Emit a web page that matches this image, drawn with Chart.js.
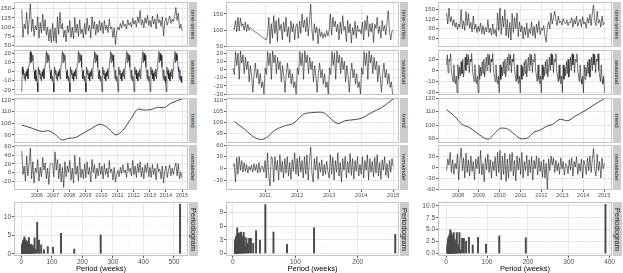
<!DOCTYPE html>
<html>
<head>
<meta charset="utf-8">
<script src="https://cdn.jsdelivr.net/npm/chart.js@4.4.0/dist/chart.umd.min.js"></script>
<style>
  body { margin: 0; background: #fff; width: 623px; height: 273px; overflow: hidden; position: relative; font-family: "Liberation Sans", Arial, sans-serif; }
  canvas { position: absolute; }
  .strip { position: absolute; background: #cccccc; color: #1a1a1a; display: flex; align-items: center; justify-content: center; overflow: hidden; z-index: 2; }
  .strip span { writing-mode: vertical-rl; white-space: nowrap; line-height: 1; }
</style>
</head>
<body>
<script>
// ---- column 1 : weekly, 2005 - 2015 ----
const ts1 = [
  148, 72, 108, 95, 140, 80, 118, 163, 88, 122, 76, 104, 92,
  128, 70, 112, 84, 135, 90, 120, 78, 100, 62, 95, 58, 110,
  62, 98, 56, 128, 80, 140, 95, 110, 72, 92, 60, 104, 85,
  118, 72, 100, 68, 126, 85, 108, 75, 120, 82, 95, 70, 110,
  80, 124, 90, 105, 70, 128, 95, 115, 78, 108, 85, 118, 90,
  112, 82, 118, 92, 105, 85, 122, 95, 100, 72, 98, 52, 88,
  100, 92, 110, 98, 118, 102, 108, 95, 120, 105, 112, 100, 124,
  108, 118, 100, 128, 112, 145, 105, 120, 98, 125, 110, 132, 104,
  118, 100, 130, 108, 122, 95, 135, 112, 120, 102, 128, 76, 115,
  125, 105, 118, 130, 110, 122, 115, 128, 153, 118, 138, 96, 108,
  90
];
const season1 = [-22, 5, -3, 2, -8, -2, -10, 0, -5, 3, -8, 2, 8, 15, 22, 10, 20, 12, 18, 5, 0, -8, 2, -10, -5, -12];
const trendYears1 = [2005.05, 2005.7, 2006.35, 2006.65, 2007.07, 2007.6, 2008.0, 2008.3, 2008.85, 2009.4, 2009.9, 2010.3, 2010.65, 2010.9, 2011.1, 2011.35, 2011.85, 2012.3, 2012.6, 2013.0, 2013.55, 2013.85, 2014.3, 2015.0];
const trendValues1 = [98.6, 95.7, 93.0, 93.6, 91.0, 85.7, 87.2, 87.5, 91.4, 95.7, 99.1, 97.1, 92.5, 90.0, 91.2, 94.3, 104.3, 112.3, 111.4, 111.6, 113.7, 113.4, 117.1, 120.9];
const remainder1 = [
  50, -5, 15, -20, 38, -8, 20, 57, -15, 25, -25, 10, 0,
  30, -20, 12, -10, 35, 5, 22, -15, 10, -28, 18, 22, 20,
  -10, 48, 5, 30, -15, 20, -22, 12, -35, 25, -10, 15, 0,
  28, -18, 10, -25, 40, -5, 15, -20, 35, -12, 8, -15, 20,
  -12, 25, -5, 12, -22, 30, 0, 18, -15, 10, -8, 22, -5,
  15, -15, 20, -5, 10, -12, 28, 0, 8, -18, 12, -22, -5,
  5, -10, 12, -3, 18, 0, 6, -12, 22, 2, 10, -8, 28,
  -5, 15, -12, 20, 0, 25, -10, 12, -15, 18, 0, 22, -10,
  12, -12, 18, -5, 10, -18, 20, 2, 8, -15, 15, -25, 5,
  15, -12, 5, 18, -8, 10, -5, 12, 22, -8, 20, -15, 0,
  -12
];
const pgramN1 = 520;
const pgram1 = [
  13.4, 5.1, 1.3, 5.5, 1.8, 1.95, 1.1, 2.4, 3.7, 8.5,
  1.2, 4.3, 1.5, 2.3, 1.0, 2.5, 1.8, 2.6, 1.4, 2.2,
  4.4, 1.2, 3.0, 2.0, 2.6, 3.2, 1.5, 2.8, 0.8, 3.5,
  1.8, 2.4, 3.3, 1.2, 2.9, 2.0, 3.6, 1.0, 3.2, 2.5,
  3.8, 1.6, 2.7, 3.4, 1.1, 4.0, 2.2, 3.0, 1.7, 3.6,
  2.4, 4.6, 1.3, 3.1, 2.6, 3.9, 1.8, 2.9, 3.3, 1.5,
  3.7, 2.1, 3.4, 2.8, 1.2, 3.5, 2.3, 3.0, 1.9, 3.2,
  2.6, 1.4, 3.3, 2.0, 2.7, 3.6, 1.6, 2.5, 3.1, 2.2,
  1.8, 2.9, 2.4, 3.4, 1.3, 2.6, 3.0, 2.1, 1.7, 2.8,
  2.3, 3.2, 1.5, 2.5, 2.0, 2.9, 1.4, 2.4, 2.7, 1.9,
  2.2, 1.6, 2.8, 2.0, 1.3, 2.5, 1.8, 2.3, 1.1, 2.6,
  2.0, 1.5, 2.4, 1.9, 2.7, 1.2, 2.1, 1.7, 2.5, 1.4,
  2.2, 1.8, 1.0, 2.3, 1.6, 2.0, 1.3, 1.9, 2.4, 1.5
];

// ---- column 2 : weekly, 2010 - 2015 ----
const ts2 = [
  105, 102, 130, 95, 140, 98, 138, 112, 120, 100, 125, 96, 118, 100, 108, 104, 100, 97, 94, 92, 90, 86, 84, 80, 78, 75,
  72, 70, 85, 140, 58, 120, 75, 145, 90, 130, 65, 138, 100, 118, 70, 125, 95, 140, 80, 110, 62, 128, 95, 120, 70, 112,
  120, 75, 128, 90, 150, 108, 132, 95, 140, 82, 125, 180, 100, 68, 120, 92, 110, 58, 105, 80, 95, 75, 90, 78, 98, 82,
  100, 150, 85, 140, 110, 128, 95, 118, 70, 125, 88, 145, 100, 112, 65, 130, 92, 120, 60, 108, 85, 128, 75, 115, 95, 102,
  88, 125, 70, 130, 100, 145, 80, 120, 95, 122, 62, 118, 105, 140, 90, 112, 75, 130, 98, 115, 85, 125, 160, 92, 70, 98,
  100
];
const season2 = [2, -6, 22, 5, 20, -12, 23, 8, 18, -5, 15, 0, 10, -15, 5, -8, -28, -5, 8, -10, 0, -18, -5, -22, -15, -30];
const trendYears2 = [2010.04, 2010.36, 2010.68, 2010.89, 2011.04, 2011.3, 2011.6, 2011.88, 2012.19, 2012.45, 2012.71, 2012.86, 2013.07, 2013.28, 2013.49, 2013.7, 2014.01, 2014.32, 2014.64, 2015.0];
const trendValues2 = [100.3, 96.8, 93.0, 92.2, 93.0, 96.3, 98.3, 99.4, 103.5, 104.3, 104.5, 104.0, 101.3, 99.4, 100.6, 101.0, 101.8, 104.3, 106.6, 110.5];
const remainder2 = [
  5, 12, -35, 28, -15, 30, -5, 20, -10, 15, -8, 10, -12, 5, -5, 8, -10, 12, -6, 10, -12, 15, -10, 5, 5, -10,
  20, -25, 40, -20, -45, 30, 25, -35, 30, -5, 20, -30, 35, -10, 18, -25, 25, -12, 30, -20, 15, -28, 22, -8, 40, -15,
  25, -20, 30, -10, 20, -25, 30, -15, 35, -30, 20, 55, -12, -35, 25, -5, 30, -28, 15, -10, 22, -20, 10, -15, 18, -8,
  -25, 35, -15, 28, -30, 20, -10, 40, -20, 15, -35, 25, -5, 30, -25, 18, -12, 38, -18, 25, -28, 20, -8, 30, -20, 10,
  -15, 30, -25, 20, -5, 35, -30, 25, -10, 18, -22, 28, -12, 35, -20, 15, -28, 22, -5, 30, -18, 12, -25, 20, -10, 25,
  5
];
const pgramN2 = 260;
const pgram2 = [
  4.2, 5.6, 2.0, 4.7, 10.7, 2.9, 5.0, 2.2, 3.3, 3.3,
  2.2, 3.4, 1.5, 3.6, 4.6, 2.8, 2.5, 3.8, 1.5, 4.7,
  2.8, 3.0, 3.9, 3.5, 2.5, 4.5, 1.8, 3.9, 2.6, 4.1,
  3.2, 1.9, 4.4, 2.7, 3.6, 2.1, 5.6, 1.6, 3.3, 2.8,
  3.7, 2.2, 4.0, 1.8, 3.1, 2.6, 3.5, 2.0, 2.9, 3.4,
  1.7, 3.0, 2.4, 3.6, 1.9, 2.7, 3.2, 2.1, 2.5, 3.0,
  1.8, 2.6, 2.2, 2.9, 1.6, 2.4, 2.8, 2.0, 2.3, 1.7
];

// ---- column 3 : weekly, mid 2007 - 2015 ----
const ts3 = [
  140, 105, 155, 112, 128, 100, 118, 95, 110, 88,
  105, 95, 150, 90, 115, 85, 145, 100, 138, 92,
  110, 80, 130, 88, 105, 78, 98, 82, 108, 75,
  100, 72, 95, 80, 118, 78, 92, 70, 105, 74,
  88, 65, 140, 85, 155, 72, 130, 95, 150, 68,
  120, 62, 110, 55, 138, 78, 125, 90, 140, 65,
  112, 80, 100, 58, 95, 70, 108, 62, 90, 75,
  112, 68, 98, 60, 105, 78, 115, 72, 92, 85,
  100, 68, 48, 95, 112, 90, 140, 105, 125, 145,
  118, 100, 130, 108, 115, 102, 122, 110, 105, 118,
  100, 112, 108, 125, 95, 118, 105, 130, 98, 112,
  120, 96, 128, 105, 112, 92, 125, 108, 135, 100,
  140, 165, 115, 100, 145, 108, 118, 95, 130, 102, 110
];
const season3 = [-20, 5, -8, 3, -5, 8, -3, 10, -6, 2, 12, 0, 15, 5, 14, -2, 10, 8, 15, 0, -5, -10, 5, -8, -12, -5];
const trendYears3 = [2007.45, 2007.81, 2008.2, 2008.52, 2008.91, 2009.3, 2009.46, 2009.7, 2010.09, 2010.33, 2010.72, 2011.03, 2011.27, 2011.66, 2011.97, 2012.29, 2012.52, 2012.92, 2013.23, 2013.62, 2014.09, 2014.56, 2015.0];
const trendValues3 = [111.6, 107.0, 100.5, 98.4, 94.1, 90.0, 89.5, 93.0, 97.8, 97.4, 93.0, 89.8, 90.0, 94.8, 96.5, 99.5, 100.5, 104.4, 103.2, 106.8, 110.8, 115.6, 119.7];
const remainder3 = [
  -10, 22, 5, 40, -15, 20, -20, 10, -5, 35,
  -35, 18, 52, -10, 25, -30, 38, -15, 20, -25,
  30, -12, 15, -35, 22, -5, 28, -18, 45, -22,
  10, -40, 25, -8, 35, -15, 20, -30, 15, -10,
  28, -25, 40, -15, 45, -35, 30, -20, 38, -40,
  22, -30, 35, -12, 40, -25, 18, -38, 30, -8,
  25, -20, 40, -30, 15, -10, 32, -25, 20, -15,
  28, -35, 18, -5, 30, -22, 25, -12, 15, -28,
  20, -30, 10, -62, 22, -10, 30, 5, 25, -15,
  18, -10, 12, -20, 25, -5, 15, -22, 10, 5,
  -18, 20, -8, 25, -25, 15, 0, 28, -20, 10,
  -12, 22, -30, 18, 5, -20, 25, -10, 30, -15,
  20, 50, -8, -25, 35, -10, 15, -30, 25, -5, 10
];
const pgramN3 = 390;
const pgram3 = [
  10.3, 3.3, 3.7, 2.0, 3.4, 1.8, 3.4, 2.6, 3.2, 3.2,
  0.8, 4.4, 1.5, 2.0, 4.4, 1.0, 2.7, 1.5, 3.0, 2.0,
  4.4, 1.6, 3.4, 2.5, 3.8, 1.3, 2.9, 3.6, 2.2, 4.1,
  1.9, 3.3, 2.7, 4.6, 1.5, 3.0, 2.4, 3.7, 5.0, 2.1,
  3.5, 1.8, 4.0, 2.6, 3.2, 1.4, 3.9, 2.3, 3.0, 2.8,
  1.7, 3.6, 2.2, 3.1, 2.7, 1.5, 3.4, 2.0, 2.9, 3.3,
  1.6, 2.8, 3.5, 2.1, 2.5, 3.0, 1.8, 2.6, 3.2, 2.2,
  1.9, 2.7, 2.3, 3.0, 1.5, 2.4, 2.8, 2.0, 1.7, 2.5,
  2.2, 1.4, 2.6, 1.9, 2.3, 1.6, 2.1, 2.4, 1.3, 2.0,
  1.8, 2.2, 1.5, 1.9, 2.3, 1.2, 1.7, 2.0, 1.4, 1.8
];

// ---- layout ----
const FONT = '"Liberation Sans", Arial, sans-serif';
const TICK_COLOR = '#4d4d4d';
const PAD = 6;
const RP = 7;
const AXIS_TS = 9;
const AXIS_PG = 17;

const rowNames = ['time-series', 'seasonal', 'trend', 'remainder'];
const rows = [
  {top: 2, h: 45},
  {top: 50, h: 45},
  {top: 98, h: 45},
  {top: 145, h: 45}
];
const cols = [
  {left: 0, panelLeft: 14, panelRight: 188, strip: 189, xMin: 2004.57, xMax: 2015.37, years: [2006, 2007, 2008, 2009, 2010, 2011, 2012, 2013, 2014, 2015]},
  {left: 205, panelLeft: 226, panelRight: 399, strip: 400, xMin: 2009.78, xMax: 2015.18, years: [2011, 2012, 2013, 2014, 2015]},
  {left: 413, panelLeft: 438, panelRight: 612, strip: 613, xMin: 2007.04, xMax: 2015.38, years: [2008, 2009, 2010, 2011, 2012, 2013, 2014, 2015]}
];
const PG_TOP = 202, PG_H = 54;

const toPoints = (vals, start, end) => vals.map((v, i) => ({x: start + i * (end - start) / (vals.length - 1), y: v}));

const tileSeason = (cycle, firstIdx, count, start, end) => {
    const vals = [];
    for (let i = 0; i < count; i++) {
        vals.push(cycle[(firstIdx + i) % cycle.length]);
    }
    return toPoints(vals, start, end);
};

const knots = (years, values) => years.map((x, i) => ({x: x, y: values[i]}));

const panelBorder = {
    id: 'panelBorder',
    afterDatasetsDraw(chart) {
        const {ctx, chartArea: a} = chart;
        ctx.save();
        ctx.strokeStyle = '#c4c4c4';
        ctx.lineWidth = 1;
        ctx.strokeRect(Math.round(a.left) + 0.5, Math.round(a.top) + 0.5, Math.round(a.right - a.left) - 1, Math.round(a.bottom - a.top) - 1);
        ctx.restore();
    }
};

function tickSetter(major) {
    return (scale) => {
        const list = major.map(v => ({value: v}));
        const step = major[1] - major[0];
        for (let v = major[0] - step / 2; v <= scale.max; v += step) {
            if (v >= scale.min) list.push({value: v, minor: true});
        }
        list.sort((a, b) => a.value - b.value);
        scale.ticks = list;
    };
}

const gridOpts = (tickLen) => ({
    color: c => (c.tick && c.tick.minor) ? '#f3f3f3' : '#e6e6e6',
    lineWidth: c => (c.tick && c.tick.minor) ? 0.6 : 1,
    tickColor: c => (c.tick && c.tick.minor) ? 'rgba(0,0,0,0)' : '#333333',
    tickWidth: 0.8,
    tickLength: tickLen,
    drawTicks: tickLen > 0
});

const labeler = fmt => function (value, index, ticks) {
    return ticks[index].minor ? '' : fmt(value);
};

function addCanvas(x, y, w, h) {
    const c = document.createElement('canvas');
    c.width = w;
    c.height = h;
    c.style.left = x + 'px';
    c.style.top = y + 'px';
    c.style.width = w + 'px';
    c.style.height = h + 'px';
    document.body.appendChild(c);
    return c;
}

function addStrip(x, y, w, h, text, size) {
    const d = document.createElement('div');
    d.className = 'strip';
    Object.assign(d.style, {left: x + 'px', top: y + 'px', width: w + 'px', height: h + 'px', fontSize: size + 'px'});
    const s = document.createElement('span');
    s.textContent = text;
    d.appendChild(s);
    document.body.appendChild(d);
}

function yScale(width, min, max, major, size, fmt) {
    return {
        type: 'linear', min: min, max: max,
        afterFit: s => { s.width = width; },
        afterBuildTicks: tickSetter(major),
        border: {display: false},
        grid: gridOpts(2),
        ticks: {autoSkip: false, padding: 1, color: TICK_COLOR, font: {family: FONT, size: size}, callback: labeler(fmt)}
    };
}

function linePanel(c, r, dataset, yMin, yMax, yTicks) {
    const col = cols[c], row = rows[r];
    const showX = r === rows.length - 1;
    const W = col.panelLeft - col.left;
    const canvas = addCanvas(col.left, row.top - PAD, col.panelRight - col.left + RP, PAD + row.h + (showX ? AXIS_TS : PAD));
    new Chart(canvas, {
        type: 'line',
        data: {datasets: [dataset]},
        options: {
            responsive: false,
            animation: false,
            events: [],
            layout: {padding: {top: PAD, bottom: showX ? 0 : PAD, left: 0, right: RP}},
            plugins: {legend: {display: false}, tooltip: {enabled: false}},
            scales: {
                x: {
                    type: 'linear', min: col.xMin, max: col.xMax,
                    afterBuildTicks: tickSetter(col.years),
                    afterFit: s => { s.height = showX ? AXIS_TS : 0; },
                    border: {display: false},
                    grid: gridOpts(showX ? 2 : 0),
                    ticks: {display: showX, autoSkip: false, maxRotation: 0, minRotation: 0, padding: 0,
                        color: TICK_COLOR, font: {family: FONT, size: 5.5}, callback: labeler(v => String(v))}
                },
                y: yScale(W, yMin, yMax, yTicks, 6, v => String(v))
            }
        },
        plugins: [panelBorder]
    });
    addStrip(col.strip, row.top, 8, row.h, rowNames[r], 6);
}

const noisy = pts => ({data: pts, borderColor: '#1a1a1a', borderWidth: 0.6, pointRadius: 0, tension: 0});
const smooth = pts => ({data: pts, borderColor: '#333333', borderWidth: 0.9, pointRadius: 0, cubicInterpolationMode: 'monotone'});

function pgramPanel(c, heights, n, xMin, xMax, xTicks, yMin, yMax, yTicks, fmt) {
    const col = cols[c];
    const W = col.panelLeft - col.left;
    const bars = heights.map((h, i) => ({x: n / (i + 1), y: h})).reverse();
    const canvas = addCanvas(col.left, PG_TOP - PAD, col.panelRight - col.left + RP, PAD + PG_H + AXIS_PG);
    new Chart(canvas, {
        type: 'bar',
        data: {datasets: [{data: bars, backgroundColor: '#4a4a4a', borderWidth: 0, barThickness: 1.3, grouped: false}]},
        options: {
            responsive: false,
            animation: false,
            events: [],
            layout: {padding: {top: PAD, bottom: 0, left: 0, right: RP}},
            plugins: {legend: {display: false}, tooltip: {enabled: false}},
            scales: {
                x: {
                    type: 'linear', min: xMin, max: xMax, offset: false,
                    afterBuildTicks: tickSetter(xTicks),
                    afterFit: s => { s.height = AXIS_PG; },
                    border: {display: false},
                    grid: Object.assign(gridOpts(2), {offset: false}),
                    ticks: {autoSkip: false, maxRotation: 0, minRotation: 0, padding: 0,
                        color: TICK_COLOR, font: {family: FONT, size: 6.5}, callback: labeler(v => String(v))},
                    title: {display: true, text: 'Period (weeks)', color: '#000', padding: {top: 0, bottom: 0},
                        font: {family: FONT, size: 7.5}}
                },
                y: yScale(W, yMin, yMax, yTicks, 6.5, fmt)
            }
        },
        plugins: [panelBorder]
    });
    addStrip(col.strip, PG_TOP, 9, PG_H, 'Periodogram', 7.5);
}

// column 1
linePanel(0, 0, noisy(toPoints(ts1, 2005.05, 2015.0)), 46, 168, [50, 75, 100, 125, 150]);
linePanel(0, 1, noisy(tileSeason(season1, 0, 260, 2005.05, 2014.98)), -25.5, 23.6, [-20, -10, 0, 10, 20]);
linePanel(0, 2, smooth(knots(trendYears1, trendValues1)), 83.1, 121.7, [90, 100, 110, 120]);
linePanel(0, 3, noisy(toPoints(remainder1, 2005.05, 2015.0)), -41, 64, [-20, 0, 20, 40, 60]);
pgramPanel(0, pgram1, pgramN1, -24, 546, [0, 100, 200, 300, 400, 500], -0.6, 14.0, [0, 5, 10], v => String(v));

// column 2
linePanel(1, 0, noisy(toPoints(ts2, 2010.0, 2015.0)), 48, 187, [50, 100, 150]);
linePanel(1, 1, noisy(tileSeason(season2, 0, 130, 2010.0, 2014.98)), -31.2, 24, [-30, -20, -10, 0, 10, 20]);
linePanel(1, 2, smooth(knots(trendYears2, trendValues2)), 90.6, 110.9, [95, 100, 105, 110]);
linePanel(1, 3, noisy(toPoints(remainder2, 2010.0, 2015.0)), -55.7, 60, [-30, 0, 30, 60]);
pgramPanel(1, pgram2, pgramN2, -11, 266, [0, 100, 200], -0.55, 11.25, [0, 3, 6, 9], v => String(v));

// column 3
linePanel(2, 0, noisy(toPoints(ts3, 2007.45, 2015.02)), 33, 174, [60, 90, 120, 150]);
linePanel(2, 1, noisy(tileSeason(season3, 13, 196, 2007.45, 2015.02)), -22.1, 18.4, [-20, -10, 0, 10]);
linePanel(2, 2, smooth(knots(trendYears3, trendValues3)), 86.6, 120.3, [90, 100, 110, 120]);
linePanel(2, 3, noisy(toPoints(remainder3, 2007.45, 2015.02)), -62.7, 60, [-60, -30, 0, 30]);
pgramPanel(2, pgram3, pgramN3, -20, 406, [0, 100, 200, 300, 400], -0.52, 10.8, [0, 2.5, 5, 7.5, 10], v => v.toFixed(1));
</script>
</body>
</html>
